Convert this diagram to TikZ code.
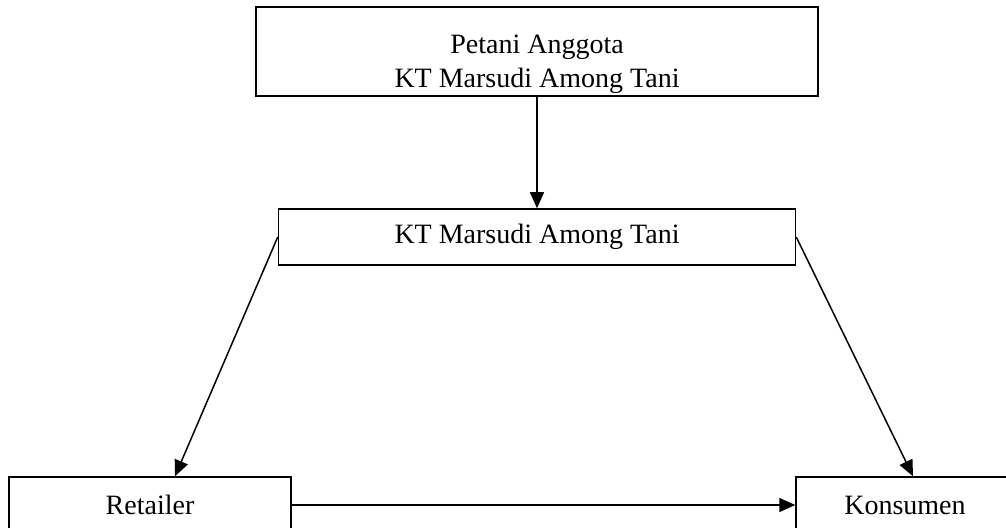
\documentclass[tikz,border=0pt]{standalone}
\usepackage{fontspec}
\setmainfont{Liberation Serif}
\usetikzlibrary{positioning,arrows.meta}

\begin{document}
\begin{tikzpicture}[x=0.5pt,y=-0.5pt,
  font=\fontsize{14}{17}\selectfont,
  box/.style={draw,line width=0.75pt,inner sep=0pt},
  arr/.style={line width=0.75pt,-{Triangle[length=8pt,width=7pt]}}]

\useasboundingbox (0,0) rectangle (1006,528);
\clip (0,0) rectangle (1006,528);

% boxes
\node[box,minimum width=281pt,minimum height=44.5pt] (petani) at (537,51.5) {};
\node[align=center] (petanitext) at (537,64) {Petani Anggota\\KT Marsudi Among Tani};
\node[box,minimum width=258.5pt,minimum height=28pt] (kt) at (537,237) {KT Marsudi Among Tani};
\node[box,minimum width=141pt,minimum height=28pt] (retailer) at (150,505) {Retailer};
\node[box,minimum width=109pt,minimum height=28pt] (konsumen) at (905,505) {Konsumen};

% arrows
\draw[arr] (petani.south) -- (kt.north);
\draw[arr] (kt.west) -- ([xshift=12.5pt]retailer.north);
\draw[arr] (kt.east) -- ([xshift=4pt]konsumen.north);
\draw[arr] (retailer.east) -- (konsumen.west);

\end{tikzpicture}
\end{document}
